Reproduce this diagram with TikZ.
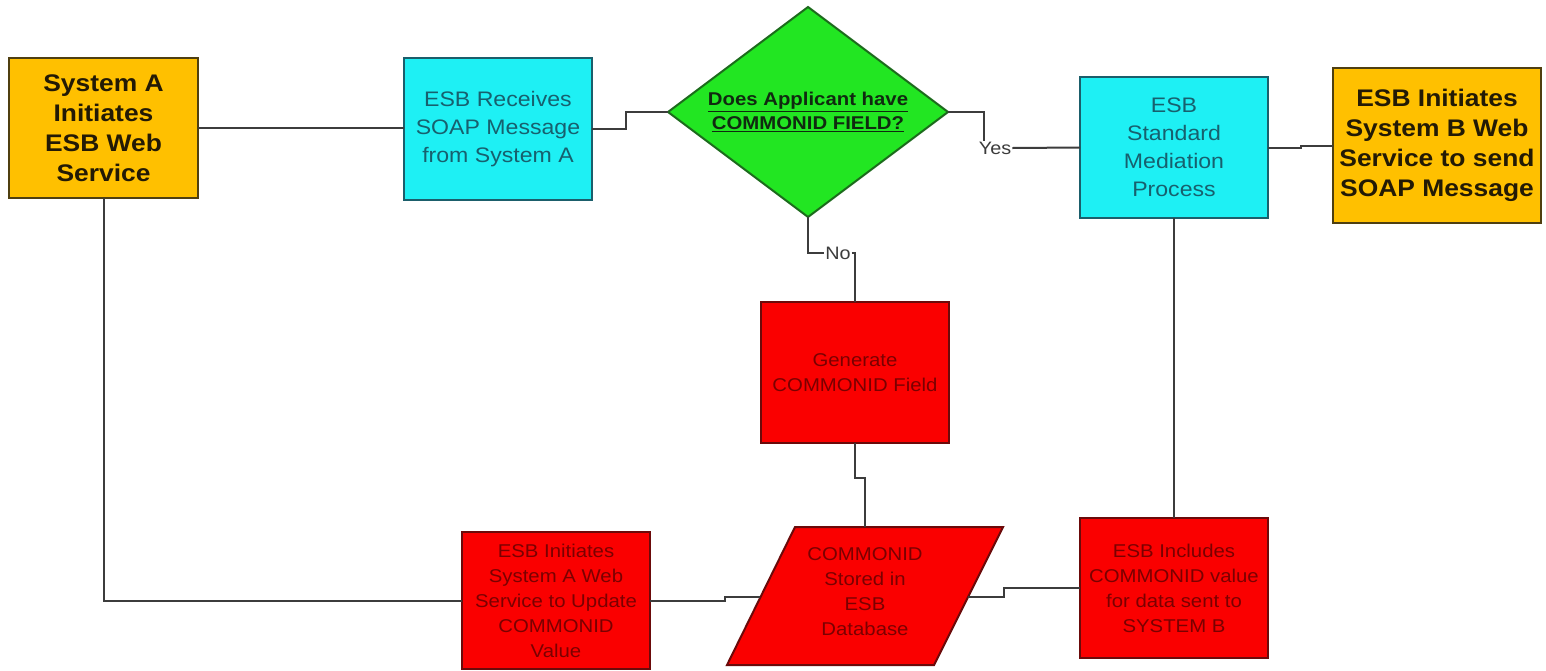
\documentclass[tikz,border=0pt]{standalone}
\usepackage{fontspec}
\setmainfont[FakeStretch=1.1]{Liberation Sans}
\usetikzlibrary{shapes.geometric,calc}
\definecolor{orfill}{HTML}{FFC000}
\definecolor{orborder}{HTML}{4F3F10}
\definecolor{ortext}{HTML}{231A05}
\definecolor{cyfill}{HTML}{1EF0F4}
\definecolor{cyborder}{HTML}{1B5E6B}
\definecolor{cytext}{HTML}{17606E}
\definecolor{rdfill}{HTML}{FA0000}
\definecolor{rdborder}{HTML}{6B0A0A}
\definecolor{rdtext}{HTML}{7A0000}
\definecolor{gnfill}{HTML}{22E622}
\definecolor{gnborder}{HTML}{1C6B1C}
\definecolor{gntext}{HTML}{102A10}
\definecolor{lncol}{HTML}{3C3C3C}
\begin{document}
\begin{tikzpicture}[x=1pt,y=-1pt,
  box/.style={draw, line width=2pt, minimum width=188, minimum height=140, inner sep=0pt, outer sep=0pt, align=center},
  orangebox/.style={box, fill=orfill, draw=orborder, text=ortext, font=\fontsize{24}{30}\selectfont\bfseries},
  cyanbox/.style={box, fill=cyfill, draw=cyborder, text=cytext, font=\fontsize{21}{28}\selectfont},
  redbox/.style={box, fill=rdfill, draw=rdborder, text=rdtext, font=\fontsize{18.5}{25}\selectfont},
  decision/.style={diamond, draw=gnborder, fill=gnfill, line width=2pt, minimum width=280, minimum height=210, inner sep=0pt, outer sep=0pt},
  dbshape/.style={draw=rdborder, fill=rdfill, line width=2pt},
  conn/.style={draw=lncol, line width=2pt},
  lbl/.style={font=\fontsize{18}{20}\selectfont, text=lncol, inner sep=1pt}]
\useasboundingbox (0,0) rectangle (1546,670);
\fill[white] (0,0) rectangle (1546,670);

% nodes
\node[orangebox, minimum width=189] (sysA) at (103.5,128) {System A\\Initiates\\ESB Web\\Service};
\node[cyanbox, minimum height=142] (recv) at (498,129) {ESB Receives\\SOAP Message\\from System A};
\node[decision] (dia) at (808,112) {};
\node[font=\fontsize{18.5}{24}\selectfont\bfseries, text=gntext, align=center] (diatext) at (dia.center) {\underline{Does Applicant have}\\\underline{COMMONID FIELD?}};
\node[cyanbox, minimum height=141] (std) at (1174,147.5) {ESB\\Standard\\Mediation\\Process};
\node[orangebox, minimum width=208, minimum height=155] (sysB) at (1437,145.5) {ESB Initiates\\System B Web\\Service to send\\SOAP Message};
\node[redbox, minimum height=141] (gen) at (855,372.5) {Generate\\COMMONID Field};
\node[redbox, minimum height=137] (upd) at (556,600.5) {ESB Initiates\\System A Web\\Service to Update\\COMMONID\\Value};
\node[redbox] (incl) at (1174,588) {ESB Includes\\COMMONID value\\for data sent to\\SYSTEM B};

% database parallelogram
\coordinate (dbTL) at (795,527);
\coordinate (dbTR) at (1003,527);
\coordinate (dbBR) at (934,665);
\coordinate (dbBL) at (727,665);
\draw[dbshape] (dbBL) -- (dbBR) -- (dbTR) -- (dbTL) -- cycle;
\node[font=\fontsize{18.5}{25}\selectfont, text=rdtext, align=center] (db) at (865,592) {COMMONID\\Stored in\\ESB\\Database};
\coordinate (dbT) at (865,527);
\coordinate (dbL) at ($(dbBL)!0.49!(dbTL)$);
\coordinate (dbR) at ($(dbBR)!0.49!(dbTR)$);

% labels
\node[lbl] (yes) at (995,148) {Yes};
\node[lbl] (no) at (838,253) {No};

% connectors
\draw[conn] (sysA.east) -- (sysA.east -| recv.west);
\draw[conn] (recv.east) -| ($(recv.east)!0.45!(dia.west)$) |- (dia.west);
\draw[conn] (dia.east) -| ([xshift=6pt]yes.north west);
\draw[conn] (yes.east) -- (std.west);
\draw[conn] (std.east) -| ($(std.east)!0.5!(sysB.west)$) |- (sysB.west);
\draw[conn] (dia.south) |- (no.west);
\draw[conn] (no.east) -| (gen.north);
\draw[conn] (gen.south) |- ($(gen.south)!0.42!(dbT)$) -| (dbT);
\draw[conn] (std.south) -- (incl.north);
\draw[conn] (sysA.south) |- (upd.west);
\draw[conn] (upd.east) -| ($(upd.east)!0.68!(dbL)$) |- (dbL);
\draw[conn] (dbR) -| ($(dbR)!0.32!(incl.west)$) |- (incl.west);
\end{tikzpicture}
\end{document}
